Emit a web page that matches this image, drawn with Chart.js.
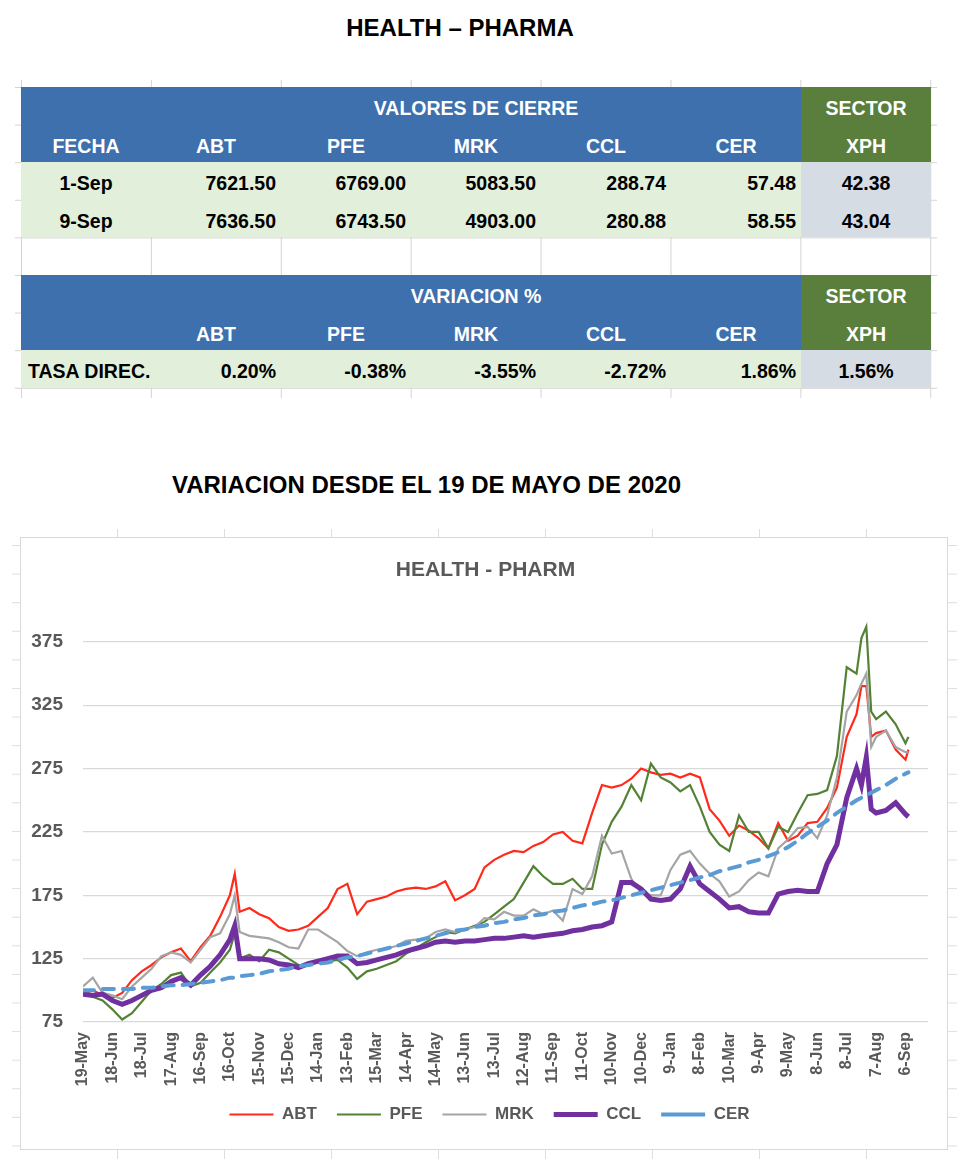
<!DOCTYPE html>
<html>
<head>
<meta charset="utf-8">
<script src="https://cdn.jsdelivr.net/npm/chart.js@4"></script>
<style>
  body { margin: 0; width: 980px; height: 1170px; position: relative; background: #fff;
         font-family: 'Liberation Sans', Arial, sans-serif; }
  .abs { position: absolute; }
  #titulo { left: 0; width: 920px; top: 13px; text-align: center; font-weight: bold; font-size: 24px; line-height: 30px; }
  #subtitulo { left: 0; width: 853px; top: 470px; text-align: center; font-weight: bold; font-size: 24px; line-height: 30px; }
  #hoja { left: 15px; top: 80px; width: 922px; height: 318px;
          background-image: linear-gradient(to right, #d4d4d4 1px, transparent 1px),
                            linear-gradient(to bottom, #d4d4d4 1px, transparent 1px);
          background-size: 129.9px 100%, 100% 37.6px;
          background-position: 6px 0, 0 7px; }
  #tabla { left: 21px; top: 87px; width: 910px; border-collapse: collapse; table-layout: fixed; }
  #tabla td { height: 37.6px; padding: 6px 5px 0 5px; box-sizing: border-box; font-weight: bold;
              font-size: 19.5px; white-space: nowrap; }
  .azul { background: #3d70ad; color: #fff; text-align: center; }
  .verde { background: #5a7e3c; color: #fff; text-align: center; }
  .claro { background: #e2efda; text-align: right; }
  .gris { background: #d6dce4; text-align: center; }
  .centro { text-align: center !important; }
  .izq { text-align: left !important; padding-left: 7px !important; }
  #rejilla { left: 12px; top: 529px; width: 945px; height: 630px;
             background-image: linear-gradient(to right, #dedede 1px, transparent 1px),
                               linear-gradient(to bottom, #dedede 1px, transparent 1px);
             background-size: 107px 100%, 100% 28.6px;
             background-position: 105px 0, 0 16px; }
  #caja { left: 20px; top: 537px; width: 928px; height: 613px; border: 1px solid #d9d9d9;
          box-sizing: border-box; background: #fff; }
</style>
</head>
<body>
<div id="titulo" class="abs">HEALTH – PHARMA</div>

<div id="hoja" class="abs"></div>
<table id="tabla" class="abs">
  <colgroup><col style="width:130px"><col style="width:130px"><col style="width:130px"><col style="width:130px"><col style="width:130px"><col style="width:130px"><col style="width:130px"></colgroup>
  <tr><td class="azul"></td><td class="azul" colspan="5">VALORES DE CIERRE</td><td class="verde">SECTOR</td></tr>
  <tr><td class="azul">FECHA</td><td class="azul">ABT</td><td class="azul">PFE</td><td class="azul">MRK</td><td class="azul">CCL</td><td class="azul">CER</td><td class="verde">XPH</td></tr>
  <tr><td class="claro centro">1-Sep</td><td class="claro">7621.50</td><td class="claro">6769.00</td><td class="claro">5083.50</td><td class="claro">288.74</td><td class="claro">57.48</td><td class="gris">42.38</td></tr>
  <tr><td class="claro centro">9-Sep</td><td class="claro">7636.50</td><td class="claro">6743.50</td><td class="claro">4903.00</td><td class="claro">280.88</td><td class="claro">58.55</td><td class="gris">43.04</td></tr>
  <tr><td></td><td></td><td></td><td></td><td></td><td></td><td></td></tr>
  <tr><td class="azul"></td><td class="azul" colspan="5">VARIACION %</td><td class="verde">SECTOR</td></tr>
  <tr><td class="azul"></td><td class="azul">ABT</td><td class="azul">PFE</td><td class="azul">MRK</td><td class="azul">CCL</td><td class="azul">CER</td><td class="verde">XPH</td></tr>
  <tr><td class="claro izq">TASA DIREC.</td><td class="claro">0.20%</td><td class="claro">-0.38%</td><td class="claro">-3.55%</td><td class="claro">-2.72%</td><td class="claro">1.86%</td><td class="gris">1.56%</td></tr>
</table>

<div id="subtitulo" class="abs">VARIACION DESDE EL 19 DE MAYO DE 2020</div>

<div id="rejilla" class="abs"></div>
<div id="caja" class="abs"><canvas id="grafico"></canvas></div>

<script>
// dias contados desde el 19-May-2020
const dias = [0,10,20,30,40,50,60,70,80,90,100,110,120,130,140,150,155,160,170,180,190,200,210,220,230,240,250,260,270,280,290,300,310,320,330,340,350,360,370,380,390,400,410,420,430,440,450,460,470,480,490,500,510,520,530,540,550,560,570,580,590,600,610,620,630,640,650,660,670,680,690,700,710,720,730,740,750,760,770,780,790,795,800,805,810,820,830,840,843];

const ABT = [97,100,96,94,98,108,115,120,126,130,
  133,123,134,143,158,175,192,162,165,160,
  157,150,147,148,151,158,165,180,184,160,
  170,172,174,178,180,181,180,182,186,171,
  175,180,197,203,207,210,209,214,217,223,
  225,218,216,240,262,260,262,267,275,272,
  270,271,268,271,268,243,234,222,230,226,
  220,212,232,218,222,232,233,244,260,300,
  318,340,340,300,303,305,290,282,290];

const PFE = [99,95,92,85,77,82,91,100,105,112,
  114,103,106,114,122,132,145,125,128,123,
  132,130,125,120,120,122,123,124,118,109,
  115,117,120,123,129,133,138,142,146,145,
  148,151,154,160,166,172,185,198,190,184,
  184,188,180,180,215,233,245,262,250,279,
  268,264,257,262,245,225,215,210,238,225,
  225,212,229,225,240,254,255,258,285,355,
  350,378,387,320,314,320,310,295,300];

const MRK = [103,110,98,96,93,103,110,117,127,130,
  128,122,132,142,145,160,175,146,143,142,
  141,138,134,133,148,148,143,138,131,127,
  130,132,133,135,139,140,141,146,148,146,
  148,150,157,156,162,159,159,164,160,163,
  155,180,176,190,222,208,210,188,177,175,
  175,195,207,210,200,192,186,174,178,187,
  193,190,212,219,228,229,220,238,268,320,
  333,342,350,292,300,305,292,288,288];

const CCL = [97,96,97,92,89,92,96,100,102,107,
  110,104,112,119,128,140,151,125,125,125,
  124,121,120,118,121,123,125,127,127,121,
  122,124,126,128,131,133,135,138,139,138,
  139,139,140,141,141,142,143,142,143,144,
  145,147,148,150,151,154,185,185,180,172,
  171,172,180,198,184,178,172,165,166,162,
  161,161,176,178,179,178,178,200,215,252,
  275,262,284,243,240,242,248,239,237];

const CER = [100,100,101,101,101,101,102,102,103,104,
  104,105,106,107,108,110,110,111,112,113,
  115,116,117,119,120,121,122,124,126,127,
  129,131,133,135,137,139,141,143,145,147,
  148,150,151,153,154,156,157,159,160,162,
  163,165,167,168,170,171,173,175,177,179,
  181,183,185,187,189,191,194,196,198,201,
  203,206,209,213,218,224,229,234,240,245,
  250,252,254,256,258,262,267,271,272];

// etiquetas del eje x, una cada 30 dias
const etiquetasX = ['19-May','18-Jun','18-Jul','17-Aug','16-Sep','16-Oct','15-Nov','15-Dec','14-Jan','13-Feb','15-Mar','14-Apr','14-May','13-Jun','13-Jul','12-Aug','11-Sep','11-Oct','10-Nov','10-Dec','9-Jan','8-Feb','10-Mar','9-Apr','9-May','8-Jun','8-Jul','7-Aug','6-Sep'];
const ticksY = [75,125,175,225,275,325,375];

function serie(valores) {
  return dias.map((d, i) => ({ x: d, y: valores[i] }));
}

Chart.defaults.font.family = "'Liberation Sans', Arial, sans-serif";
Chart.defaults.color = '#595959';

// corre un poco el titulo y la leyenda hacia la derecha, como en el original
const correrCajas = {
  id: 'correrCajas',
  afterLayout(chart) {
    if (chart.legend) { chart.legend.left += 15; chart.legend.right += 15; }
    if (chart.titleBlock) { chart.titleBlock.left += 11; chart.titleBlock.right += 11; }
  },
};

const datos = {
  datasets: [
    { label: 'ABT', data: serie(ABT), borderColor: '#ff2a1a', borderWidth: 2.2, order: 5 },
    { label: 'PFE', data: serie(PFE), borderColor: '#548235', borderWidth: 2.2, order: 4 },
    { label: 'MRK', data: serie(MRK), borderColor: '#a5a5a5', borderWidth: 2.2, order: 3 },
    { label: 'CCL', data: serie(CCL), borderColor: '#7030a0', borderWidth: 5, order: 2 },
    { label: 'CER', data: serie(CER), borderColor: '#5b9bd5', borderWidth: 4, borderDash: [11, 9], borderCapStyle: 'round', order: 1 },
  ],
};

const grafico = new Chart(document.getElementById('grafico'), {
  type: 'line',
  data: datos,
  plugins: [correrCajas],
  options: {
    responsive: true,
    maintainAspectRatio: false,
    animation: false,
    layout: { padding: { left: 0, right: 19, top: 0, bottom: 16 } },
    elements: { point: { radius: 0 }, line: { tension: 0, fill: false } },
    plugins: {
      tooltip: { enabled: false },
      title: {
        display: true, text: 'HEALTH - PHARM', color: '#595959',
        font: { size: 21, weight: 'bold' }, padding: { top: 20, bottom: 27 },
      },
      legend: {
        position: 'bottom',
        labels: {
          usePointStyle: true, pointStyle: 'line', boxWidth: 44, pointStyleWidth: 44,
          padding: 20, color: '#595959', font: { size: 17, weight: 'bold' },
          sort: (a, b) => a.datasetIndex - b.datasetIndex,
        },
      },
    },
    scales: {
      x: {
        type: 'linear', min: 0, max: 863,
        grid: { display: false, drawTicks: false },
        border: { display: false },
        afterBuildTicks: (eje) => { eje.ticks = etiquetasX.map((_, i) => ({ value: i * 30 })); },
        afterFit: (eje) => { eje.height = 64; },
        ticks: {
          autoSkip: false, maxRotation: 90, minRotation: 90, padding: 10,
          font: { size: 16, weight: 'bold' }, color: '#595959',
          callback: (v) => etiquetasX[Math.round(v / 30)],
        },
      },
      y: {
        min: 75, max: 400,
        grid: { color: '#d9d9d9', lineWidth: 1.3, drawTicks: false },
        border: { display: false },
        afterBuildTicks: (eje) => { eje.ticks = ticksY.map(v => ({ value: v })); },
        afterFit: (eje) => { eje.width = 62; },
        ticks: { padding: 20, font: { size: 19, weight: 'bold' }, color: '#595959' },
      },
    },
  },
});
</script>
</body>
</html>
